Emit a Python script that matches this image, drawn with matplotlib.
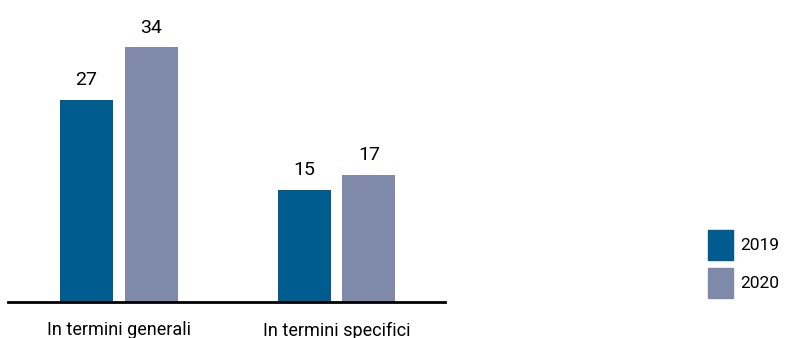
import matplotlib
matplotlib.use("Agg")
import matplotlib.pyplot as plt
from matplotlib.patches import Patch

categories = ["In termini generali", "In termini specifici"]
years = ["2019", "2020"]
values_2019 = [27, 15]
values_2020 = [34, 17]
colors = ["#005b8e", "#7f8aab"]

plt.rcParams['font.family'] = ['Liberation Sans Narrow', 'Roboto', 'DejaVu Sans']

fig = plt.figure(figsize=(7.93, 3.38), dpi=100)
ax = fig.add_axes([8 / 793, 36 / 338, 437 / 793, 302 / 338])

x = [0, 1]
w = 0.244
off = 0.149
b1 = ax.bar([i - off for i in x], values_2019, w, color=colors[0])
b2 = ax.bar([i + off for i in x], values_2020, w, color=colors[1])

for bars in (b1, b2):
    for bar in bars:
        ax.text(bar.get_x() + bar.get_width() / 2, bar.get_height() + 1.4,
                str(int(bar.get_height())), ha='center', va='bottom', fontsize=14)

ax.set_xlim(-0.510, 1.499)
ax.set_ylim(0, 40.3)
ax.set_xticks(x)
ax.set_xticklabels(categories, fontsize=13)
ax.tick_params(axis='x', length=0, pad=14)
ax.set_yticks([])
for s in ['top', 'right', 'left']:
    ax.spines[s].set_visible(False)
ax.spines['bottom'].set_linewidth(2)

handles = [Patch(color=c, label=y) for c, y in zip(colors, years)]
fig.legend(handles=handles, loc='center left', bbox_to_anchor=(692 / 793, 1 - 264 / 338),
           frameon=False, fontsize=12.5, handlelength=1.45, handleheight=2.3,
           handletextpad=0.45, labelspacing=0.45)

fig.savefig("out.png", dpi=100)
